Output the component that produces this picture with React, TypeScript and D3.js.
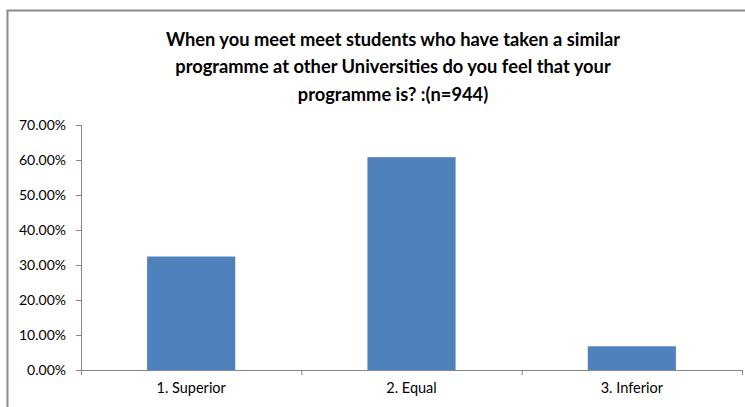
import React from "react";
import * as d3 from "d3";

const categories = ["1. Superior", "2. Equal", "3. Inferior"];
const values = [32.42, 60.81, 6.78];
const yTicks = [0, 10, 20, 30, 40, 50, 60, 70];
const titleLines = [
  "When you meet meet students who have taken a similar",
  "programme at other Universities do you feel that your",
  "programme is? :(n=944)",
];

const W = 745;
const H = 407;
const plot = { left: 81, right: 742, top: 125, bottom: 370 };
const axisColor = "#868686";
const barColor = "#4F81BD";
const font = "Lato, 'Open Sans', sans-serif";

export default function App() {
  const x = d3
    .scaleBand<string>()
    .domain(categories)
    .range([plot.left, plot.right])
    .paddingInner(0.6)
    .paddingOuter(0.3);
  const band = d3.scaleBand<string>().domain(categories).range([plot.left, plot.right]);
  const y = d3.scaleLinear().domain([0, 70]).range([plot.bottom, plot.top]);
  const boundaries = [plot.left, ...categories.map((c) => (band(c) as number) + band.bandwidth())];

  return (
    <svg
      width={W}
      height={H}
      style={{ position: "absolute", left: 0, top: 0, display: "block", background: "#fff" }}
    >
      <rect x={0} y={0} width={W} height={H} fill="#fff" />
      <rect x={7.5} y={10.5} width={W + 40} height={H + 40} fill="none" stroke="#8a8a8a" strokeWidth={2} />
      {titleLines.map((t, i) => (
        <text
          key={i}
          x={393}
          y={45.5 + i * 27.5}
          textAnchor="middle"
          fontFamily={font}
          fontWeight="bold"
          fontSize={18.3}
          fill="#000"
        >
          {t}
        </text>
      ))}
      {categories.map((c, i) => (
        <rect
          key={c}
          x={x(c)}
          y={y(values[i])}
          width={x.bandwidth()}
          height={plot.bottom - y(values[i])}
          fill={barColor}
        />
      ))}
      <line x1={plot.left + 0.5} x2={plot.left + 0.5} y1={plot.top} y2={plot.bottom} stroke={axisColor} />
      {yTicks.map((t) => (
        <g key={t}>
          <line x1={plot.left - 5} x2={plot.left} y1={Math.round(y(t)) + 0.5} y2={Math.round(y(t)) + 0.5} stroke={axisColor} />
          <text
            x={66}
            y={y(t)}
            dy="0.35em"
            textAnchor="end"
            fontFamily={font}
            fontSize={14}
            fill="#000"
          >
            {t.toFixed(2) + "%"}
          </text>
        </g>
      ))}
      <line x1={plot.left} x2={plot.right} y1={plot.bottom + 0.5} y2={plot.bottom + 0.5} stroke={axisColor} />
      {boundaries.map((b, i) => (
        <line key={i} x1={b + 0.5} x2={b + 0.5} y1={plot.bottom} y2={plot.bottom + 5} stroke={axisColor} />
      ))}
      {categories.map((c) => (
        <text
          key={c}
          x={(band(c) as number) + band.bandwidth() / 2}
          y={393}
          textAnchor="middle"
          fontFamily={font}
          fontSize={14.5}
          fill="#000"
        >
          {c}
        </text>
      ))}
    </svg>
  );
}
